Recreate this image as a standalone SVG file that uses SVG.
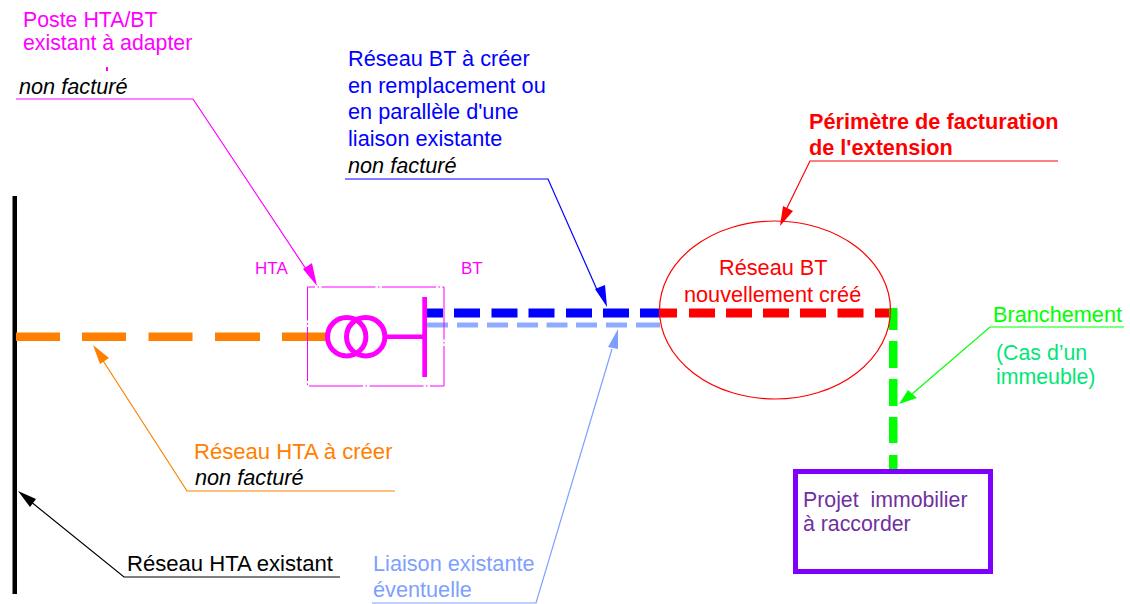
<svg xmlns="http://www.w3.org/2000/svg" width="1130" height="604" viewBox="0 0 1130 604">
<style>
text{font-family:"Liberation Sans",Arial,sans-serif;font-size:21.7px}
.i{font-style:italic;fill:#000}
.s{fill:none;stroke-width:1.2}
.m{font-size:21.3px}
.l{font-size:22.1px}
.t{font-size:17px}
.mg{fill:#ff00ff}.bl{fill:#0000ff}.rd{fill:#ff0000}.or{fill:#ff8000}.lb{fill:#7f9fff}.gr{fill:#00ff00}
</style>
<rect width="1130" height="604" fill="#fff"/>
<g id="connectors">
<g id="leaders" class="s">
<path d="M16 99H193L308 272" stroke="#ff00ff"/>
<path d="M345 179H548L598 292" stroke="#0000ff"/>
<path d="M1058 161H810L786 210" stroke="#ff0000"/>
<path d="M1124 327H990L912 394" stroke="#00ff00"/>
<path d="M395 491H187L100 356" stroke="#ff8000"/>
<path d="M340 577H124L30 501" stroke="#000"/>
<path d="M372 603H536L612 349" stroke="#7f9fff"/>
</g>
<g id="arrowheads">
<path d="M317 286L303 269L312 263Z" fill="#ff00ff"/>
<path d="M607 307L595 289L605 285Z" fill="#0000ff"/>
<path d="M780 226L783 206L793 211Z" fill="#ff0000"/>
<path d="M899 404L908 390L917 398Z" fill="#00ff00"/>
<path d="M93 345L109 358L100 364Z" fill="#ff8000"/>
<path d="M18 491L36 499L30 507Z" fill="#000"/>
<path d="M618 329L618 349L608 347Z" fill="#7f9fff"/>
</g>
<rect x="12.500" y="196" width="4.500" height="398" fill="#000"/>
<g fill="#ff8000"><rect x="16" y="332.500" width="44" height="8.500"/><rect x="82" y="332.500" width="44" height="8.500"/><rect x="148.500" y="332.500" width="44" height="8.500"/><rect x="215" y="332.500" width="45" height="8.500"/><rect x="282" y="332.500" width="44" height="8.500"/></g>
<g fill="#0000ff"><rect x="427" y="308.500" width="16" height="9"/><rect x="454" y="308.500" width="26" height="9"/><rect x="491.500" y="308.500" width="26" height="9"/><rect x="528.500" y="308.500" width="26" height="9"/><rect x="566" y="308.500" width="26" height="9"/><rect x="603" y="308.500" width="26" height="9"/><rect x="640" y="308.500" width="19" height="9"/></g>
<g fill="#8fabff"><rect x="427" y="322.500" width="21" height="5"/><rect x="457" y="322.500" width="21" height="5"/><rect x="487" y="322.500" width="21" height="5"/><rect x="517" y="322.500" width="21" height="5"/><rect x="546.500" y="322.500" width="21" height="5"/><rect x="576" y="322.500" width="21" height="5"/><rect x="606" y="322.500" width="21" height="5"/><rect x="636" y="322.500" width="24" height="5"/></g>
<g fill="#ff0000"><rect x="659" y="308.500" width="18" height="9"/><rect x="689" y="308.500" width="26" height="9"/><rect x="726" y="308.500" width="26" height="9"/><rect x="763" y="308.500" width="26" height="9"/><rect x="800" y="308.500" width="26" height="9"/><rect x="837.500" y="308.500" width="26" height="9"/><rect x="875" y="308.500" width="15" height="9"/></g>
<g fill="#00ff00"><rect x="889" y="308" width="8.500" height="22"/><rect x="889" y="341" width="8.500" height="27"/><rect x="889" y="379" width="8.500" height="27"/><rect x="889" y="417" width="8.500" height="26"/><rect x="889" y="455" width="8.500" height="15"/></g>
</g>
<g id="poste">
<rect x="307.500" y="287" width="136.500" height="99" fill="none" stroke="#ff00ff" stroke-width="1" stroke-dasharray="54 2.500 1.500 2.500" stroke-dashoffset="46.500"/>
<g fill="none" stroke="#ff00ff" stroke-width="5"><circle cx="346.700" cy="336.700" r="19.200"/><circle cx="365.700" cy="336.700" r="19.200"/></g>
<path d="M385 336.700H425" stroke="#ff00ff" stroke-width="4.500"/>
<rect x="422.300" y="297" width="4.700" height="80" fill="#ff00ff"/>
<text class="mg t" x="255" y="274">HTA</text>
<text class="mg t" x="461" y="274">BT</text>
</g>
<g id="label-poste">
<text class="mg m" x="23" y="27">Poste HTA/BT</text>
<text class="mg m" x="23" y="50">existant à adapter</text>
<rect x="106" y="67" width="2" height="4" fill="#ff00ff"/>
<text class="i" x="19" y="94">non facturé</text>
</g>
<g id="label-bt">
<text class="bl" x="348" y="66">Réseau BT à créer</text>
<text class="bl" x="348" y="93">en remplacement ou</text>
<text class="bl" x="348" y="119">en parallèle d'une</text>
<text class="bl" x="348" y="146">liaison existante</text>
<text class="i" x="348" y="173">non facturé</text>
</g>
<g id="label-perimetre">
<text class="rd" x="809" y="129" font-weight="700">Périmètre de facturation</text>
<text class="rd" x="809" y="155" font-weight="700">de l'extension</text>
</g>
<g id="perimetre">
<ellipse cx="775" cy="310" rx="115.500" ry="89" fill="none" stroke="#ff0000" stroke-width="1.200"/>
<text class="rd" x="719" y="275">Réseau BT</text>
<text class="rd" x="684" y="302">nouvellement créé</text>
</g>
<g id="label-branchement">
<text class="gr" x="993" y="322">Branchement</text>
<text class="m" x="996" y="360" fill="#00e676">(Cas d’un</text>
<text class="m" x="996" y="384" fill="#00e676">immeuble)</text>
</g>
<g id="projet">
<rect x="795.500" y="471.500" width="195" height="100" fill="none" stroke="#8000ff" stroke-width="5"/>
<text class="m" x="803" y="507" fill="#7030a0" xml:space="preserve">Projet  immobilier</text>
<text class="m" x="803" y="531" fill="#7030a0">à raccorder</text>
</g>
<g id="label-hta">
<text class="or l" x="194" y="459">Réseau HTA à créer</text>
<text class="i" x="195" y="485">non facturé</text>
</g>
<g id="label-hta-existant"><text class="l" x="127" y="571" fill="#000">Réseau HTA existant</text></g>
<g id="label-liaison">
<text class="lb" x="373" y="571">Liaison existante</text>
<text class="lb" x="373" y="597">éventuelle</text>
</g>
</svg>
